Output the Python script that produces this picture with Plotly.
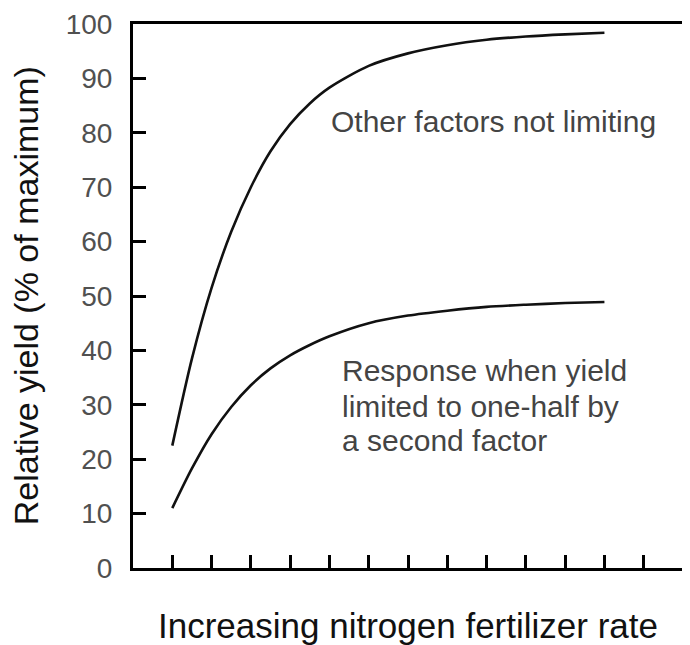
import plotly.graph_objects as go

# Data
rate = [1, 1.5, 2, 2.5, 3, 3.5, 4, 4.5, 5, 6, 7, 8, 9, 10, 11, 12]
yield_not_limited = [22.5, 38.5, 51.5, 61.8, 70.0, 76.6, 81.6, 85.4, 88.3, 92.3, 94.6, 96.1, 97.1, 97.7, 98.1, 98.4]
yield_half_limited = [11.0, 18.3, 24.6, 29.6, 33.6, 36.7, 39.1, 41.0, 42.6, 45.0, 46.4, 47.3, 48.0, 48.4, 48.7, 48.9]

y_ticks = [0, 10, 20, 30, 40, 50, 60, 70, 80, 90, 100]
x_ticks = list(range(1, 14))

label_top = "Other factors not limiting"
label_bottom_lines = ["Response when yield", "limited to one-half by", "a second factor"]
label_bottom_y = [36.3, 29.6, 23.5]
x_title = "Increasing nitrogen fertilizer rate"
y_title = "Relative yield (% of maximum)"

fig = go.Figure()
for ys in (yield_not_limited, yield_half_limited):
    fig.add_trace(go.Scatter(x=rate, y=ys, mode="lines",
                             line=dict(color="#111111", width=2.6, shape="spline", smoothing=0.8),
                             showlegend=False, hoverinfo="skip"))

font = "Liberation Sans, Arial, sans-serif"
annotations = [
    dict(text=label_top, xref="x", yref="y", x=5.0, y=82.1, xanchor="left", yanchor="middle",
         showarrow=False, font=dict(size=30, color="#444444", family=font)),
]
for line, yv in zip(label_bottom_lines, label_bottom_y):
    annotations.append(dict(text=line, xref="x", yref="y", x=5.28, y=yv, xanchor="left", yanchor="middle",
                            showarrow=False, font=dict(size=30, color="#444444", family=font)))
annotations += [
    dict(text=x_title, xref="paper", yref="paper", x=0.5, y=-0.106, xanchor="center", yanchor="middle",
         showarrow=False, font=dict(size=35, color="#111111", family=font)),
    dict(text=y_title, xref="paper", yref="paper", x=-0.194, y=0.5, xanchor="center", yanchor="middle",
         textangle=-90, showarrow=False, font=dict(size=34, color="#111111", family=font)),
]

fig.update_layout(
    width=682, height=637,
    margin=dict(l=125, r=7, t=16, b=77, autoexpand=False),
    paper_bgcolor="white", plot_bgcolor="white",
    font=dict(family=font, color="#333333"),
    xaxis=dict(range=[0, 14], tickvals=x_ticks, showticklabels=False,
               ticks="inside", ticklen=13, tickwidth=2.5, tickcolor="black",
               showline=True, linecolor="black", linewidth=3, mirror=True,
               showgrid=False, zeroline=False, fixedrange=True, automargin=False),
    yaxis=dict(range=[0, 100], tickvals=y_ticks,
               ticks="inside", ticklen=13, tickwidth=2.5, tickcolor="black",
               showline=True, linecolor="black", linewidth=3, mirror=True,
               showgrid=False, zeroline=False, automargin=False,
               tickfont=dict(size=28, color="#505050", family=font),
               ticklabelstandoff=12, ticklabeloverflow="allow", fixedrange=True),
    annotations=annotations,
)

fig.write_html("out.html")
